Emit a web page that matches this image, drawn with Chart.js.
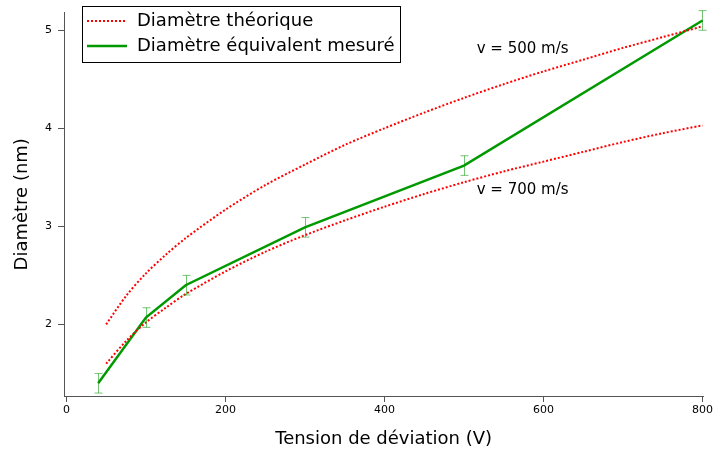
<!DOCTYPE html>
<html>
<head>
<meta charset="utf-8">
<script src="https://cdn.jsdelivr.net/npm/chart.js@4.4.0/dist/chart.umd.min.js"></script>
<style>
  html, body { margin: 0; padding: 0; background: #fff; }
  #wrap { width: 715px; height: 450px; }
</style>
</head>
<body>
<div id="wrap"><canvas id="chart" width="715" height="450"></canvas></div>
<script>
// measured diameter
var voltages = [40, 100, 150, 300, 500, 800];
var measured = [1.40, 2.07, 2.40, 2.99, 3.62, 5.10];
var errors = [0.10, 0.10, 0.10, 0.10, 0.10, 0.10];

// theoretical curves
var theoryV = [50, 75, 100, 125, 150, 200, 250, 300, 350, 400, 450, 500, 550, 600, 650, 700, 750, 800];
var theory500 = [2.00, 2.29, 2.52, 2.71, 2.88, 3.17, 3.42, 3.63, 3.83, 4.00, 4.16, 4.31, 4.45, 4.58, 4.70, 4.82, 4.93, 5.04];
var theory700 = [1.60, 1.83, 2.02, 2.17, 2.31, 2.54, 2.74, 2.91, 3.06, 3.20, 3.33, 3.45, 3.56, 3.66, 3.76, 3.86, 3.95, 4.03];

var xTicks = [0, 200, 400, 600, 800];
var yTicks = [2, 3, 4, 5];

var labels = [
  { text: "v = 500 m/s", x: 516, y: 4.81 },
  { text: "v = 700 m/s", x: 516, y: 3.37 }
];

var FONT = "'DejaVu Sans', sans-serif";

function toPoints(xs, ys){
  return xs.map(function(x, i){ return { x: x, y: ys[i] }; });
}

var errorBars = {
  id: 'errorBars',
  afterDatasetsDraw: function(chart){
    var ctx = chart.ctx, xs = chart.scales.x, ys = chart.scales.y;
    ctx.save();
    ctx.strokeStyle = 'rgba(0,150,0,0.55)';
    ctx.lineWidth = 1;
    voltages.forEach(function(v, i){
      var px = Math.round(xs.getPixelForValue(v)) + 0.5;
      var top = ys.getPixelForValue(measured[i] + errors[i]);
      var bot = ys.getPixelForValue(measured[i] - errors[i]);
      ctx.beginPath();
      ctx.moveTo(px, top); ctx.lineTo(px, bot);
      ctx.moveTo(px - 4, top); ctx.lineTo(px + 4, top);
      ctx.moveTo(px - 4, bot); ctx.lineTo(px + 4, bot);
      ctx.stroke();
    });
    ctx.restore();
  }
};

var textLabels = {
  id: 'textLabels',
  afterDraw: function(chart){
    var ctx = chart.ctx, xs = chart.scales.x, ys = chart.scales.y;
    ctx.save();
    ctx.font = "15px " + FONT;
    ctx.fillStyle = '#000';
    ctx.textAlign = 'left';
    ctx.textBaseline = 'middle';
    labels.forEach(function(l){
      ctx.fillText(l.text, xs.getPixelForValue(l.x), ys.getPixelForValue(l.y));
    });
    ctx.restore();
  }
};

var boxLegend = {
  id: 'boxLegend',
  afterDraw: function(chart){
    var ctx = chart.ctx;
    ctx.save();
    ctx.fillStyle = '#fff';
    ctx.fillRect(82, 6, 318, 56);
    ctx.strokeStyle = '#000';
    ctx.lineWidth = 1;
    ctx.strokeRect(82.5, 6.5, 318, 56);

    ctx.lineWidth = 2;
    ctx.strokeStyle = '#ff0000';
    ctx.setLineDash([2, 2]);
    ctx.beginPath(); ctx.moveTo(87, 21); ctx.lineTo(127, 21); ctx.stroke();
    ctx.setLineDash([]);
    ctx.lineWidth = 2.5;
    ctx.strokeStyle = '#009900';
    ctx.beginPath(); ctx.moveTo(87, 46); ctx.lineTo(127, 46); ctx.stroke();

    ctx.font = "18px " + FONT;
    ctx.fillStyle = '#000';
    ctx.textBaseline = 'middle';
    ctx.fillText("Diamètre théorique", 137, 21);
    ctx.fillText("Diamètre équivalent mesuré", 137, 46);
    ctx.restore();
  }
};

new Chart(document.getElementById("chart"), {
  type: 'line',
  data: {
    datasets: [{
      label: "Diamètre théorique",
      data: toPoints(theoryV, theory500),
      borderColor: '#ff0000',
      borderWidth: 2,
      borderDash: [2, 2],
      pointRadius: 0,
      tension: 0.3,
      fill: false
    }, {
      label: "Diamètre théorique",
      data: toPoints(theoryV, theory700),
      borderColor: '#ff0000',
      borderWidth: 2,
      borderDash: [2, 2],
      pointRadius: 0,
      tension: 0.3,
      fill: false
    }, {
      label: "Diamètre équivalent mesuré",
      data: toPoints(voltages, measured),
      borderColor: '#009900',
      borderWidth: 2.5,
      pointRadius: 0,
      tension: 0,
      fill: false
    }]
  },
  options: {
    responsive: false,
    animation: false,
    layout: { padding: { top: 10, right: 10, left: 0, bottom: 0 } },
    plugins: {
      legend: { display: false },
      tooltip: { enabled: false }
    },
    scales: {
      x: {
        type: 'linear',
        min: -3,
        max: 801,
        afterBuildTicks: function(s){ s.ticks = xTicks.map(function(v){ return { value: v }; }); },
        afterFit: function(s){ s.height = 54; },
        grid: { drawOnChartArea: false, tickLength: 6, color: '#555' },
        border: { color: '#555' },
        ticks: { color: '#000', font: { family: FONT, size: 11 }, padding: 2, maxRotation: 0 },
        title: { display: true, text: "Tension de déviation (V)", color: '#000', font: { family: FONT, size: 18 }, padding: { top: 4, bottom: 0 } }
      },
      y: {
        type: 'linear',
        min: 1.27,
        max: 5.18,
        afterBuildTicks: function(s){ s.ticks = yTicks.map(function(v){ return { value: v }; }); },
        afterFit: function(s){ s.width = 64; },
        grid: { drawOnChartArea: false, tickLength: 6, color: '#555' },
        border: { color: '#555' },
        ticks: { color: '#000', font: { family: FONT, size: 11 }, padding: 6 },
        title: { display: true, text: "Diamètre (nm)", color: '#000', font: { family: FONT, size: 18 }, padding: { top: 12, bottom: 6 } }
      }
    }
  },
  plugins: [errorBars, textLabels, boxLegend]
});
</script>
</body>
</html>
